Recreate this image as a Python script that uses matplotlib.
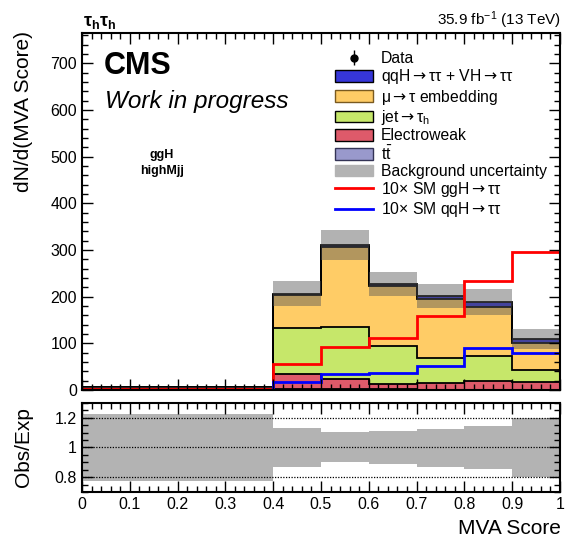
import numpy as np
import matplotlib
matplotlib.use("Agg")
import matplotlib.pyplot as plt
import matplotlib.patches as mpatches
from matplotlib.lines import Line2D
from matplotlib.ticker import MultipleLocator

plt.rcParams["font.family"] = ["Liberation Sans", "DejaVu Sans"]
plt.rcParams["mathtext.fontset"] = "custom"
plt.rcParams["mathtext.rm"] = "Liberation Sans"
plt.rcParams["mathtext.it"] = "Liberation Sans:italic"
plt.rcParams["mathtext.bf"] = "Liberation Sans:bold"
plt.rcParams["mathtext.sf"] = "DejaVu Sans"

# bin edges of the MVA score
edges = [0.0, 0.4, 0.5, 0.6, 0.7, 0.8, 0.9, 1.0]

# background stack, bottom to top (dN/d(MVA Score))
ttbar = [1.0, 3, 2, 3, 1, 1, 1]
ewk = [1.0, 31, 21.5, 9, 14, 19, 17]
jetfake = [1.5, 98, 112, 83, 53, 53, 25]
embed = [2.3, 72, 170, 128, 127.5, 104, 57]
qqh_vh = [0.2, 2, 4.5, 5, 6.5, 11, 9]

# relative background uncertainty (up / down)
unc_up = [1.224, 1.133, 1.107, 1.113, 1.124, 1.147, 1.200]
unc_down = [0.773, 0.871, 0.900, 0.887, 0.871, 0.858, 0.802]

# signals x10
ggh_sig = [1.5, 55, 93, 111, 158, 233, 295]
qqh_sig = [0.5, 18, 35, 36.5, 51, 89, 80]

stack = [
    (ttbar, "#9999cc"),
    (ewk, "#de5a6a"),
    (jetfake, "#c6e76a"),
    (embed, "#ffcc66"),
    (qqh_vh, "#3636d8"),
]

ARR = r"$\mathsf{\rightarrow}$"

fig = plt.figure(figsize=(5.65, 5.41), dpi=100)
ax = fig.add_axes([0.1451, 0.2791, 0.8460, 0.6599])
rax = fig.add_axes([0.1451, 0.0906, 0.8460, 0.1645])

bottom = np.zeros(len(edges) - 1)
for vals, col in stack:
    top = bottom + np.array(vals)
    ax.stairs(top, edges, baseline=bottom, fill=True, color=col, lw=0)
    bottom = top
bottom = np.zeros(len(edges) - 1)
for vals, col in stack:
    bottom = bottom + np.array(vals)
    ax.stairs(bottom, edges, baseline=0, color="black", lw=1.3)
total = bottom

ax.stairs(total * np.array(unc_up), edges, baseline=total * np.array(unc_down),
          fill=True, color="#555555", alpha=0.45, lw=0)

ax.stairs(ggh_sig, edges, baseline=None, color="#ff0000", lw=2)
ax.stairs(qqh_sig, edges, baseline=None, color="#0000ff", lw=2)

ax.set_xlim(0, 1)
ax.set_ylim(0, 765)
ax.xaxis.set_major_locator(MultipleLocator(0.1))
ax.xaxis.set_minor_locator(MultipleLocator(0.02))
ax.yaxis.set_major_locator(MultipleLocator(100))
ax.yaxis.set_minor_locator(MultipleLocator(20))
ax.tick_params(labelbottom=False)

# ratio panel
rax.stairs(unc_up, edges, baseline=unc_down, fill=True, color="#b3b3b3", lw=0)
for yv in [0.8, 1.0, 1.2]:
    rax.axhline(yv, color="black", ls=(0, (1, 1.2)), lw=0.9)
rax.set_xlim(0, 1)
rax.set_ylim(0.7, 1.3)
rax.xaxis.set_minor_locator(MultipleLocator(0.02))
rax.set_yticks([0.8, 1.0, 1.2])
rax.set_yticklabels(["0.8", "1", "1.2"])
rax.yaxis.set_minor_locator(MultipleLocator(0.05))
rax.set_xticks(np.arange(0, 1.01, 0.1))
rax.set_xticklabels(["0", "0.1", "0.2", "0.3", "0.4", "0.5", "0.6", "0.7", "0.8", "0.9", "1"])

for a in [ax, rax]:
    a.tick_params(which="both", direction="in", top=True, right=True, labelsize=11.5)
    a.tick_params(which="major", length=8, width=1)
    a.tick_params(which="minor", length=4, width=1)
    for sp in a.spines.values():
        sp.set_linewidth(1.5)

# texts
fig.text(0.042, 0.942, "dN/d(MVA Score)", rotation=90, ha="center", va="top", fontsize=15)
fig.text(0.042, 0.173, "Obs/Exp", rotation=90, ha="center", va="center", fontsize=15)
fig.text(0.993, 0.013, "MVA Score", ha="right", va="baseline", fontsize=15)
fig.text(0.147, 0.952, r"$\mathbf{\tau_{h}\tau_{h}}$", ha="left", va="baseline", fontsize=13)
fig.text(0.993, 0.953, r"35.9 fb$^{-1}$ (13 TeV)", ha="right", va="baseline", fontsize=11)
ax.text(0.045, 0.885, "CMS", transform=ax.transAxes, fontsize=22, fontweight="bold")
ax.text(0.048, 0.79, "Work in progress", transform=ax.transAxes, fontsize=17.5, style="italic")
ax.text(0.167, 0.675, "ggH\nhighMjj", transform=ax.transAxes, fontsize=9,
        fontweight="bold", ha="center", va="top", linespacing=1.4)

# legend
data_h = ax.errorbar([np.nan], [np.nan], yerr=[1], fmt="o", color="black", ms=5, lw=1)
handles = [
    data_h,
    mpatches.Patch(facecolor="#3636d8", edgecolor="black", lw=1),
    mpatches.Patch(facecolor="#ffcc66", edgecolor="#7a5a20", lw=1),
    mpatches.Patch(facecolor="#c6e76a", edgecolor="black", lw=1),
    mpatches.Patch(facecolor="#de5a6a", edgecolor="black", lw=1),
    mpatches.Patch(facecolor="#9999cc", edgecolor="#333355", lw=1),
    mpatches.Patch(facecolor="#b3b3b3", edgecolor="#b3b3b3", lw=1),
    Line2D([], [], color="#ff0000", lw=2),
    Line2D([], [], color="#0000ff", lw=2),
]
labels = [
    "Data",
    "qqH" + ARR + "ττ + VH" + ARR + "ττ",
    "μ" + ARR + "τ embedding",
    "jet" + ARR + r"$\mathregular{\tau_h}$",
    "Electroweak",
    r"$\mathregular{t\bar{t}}$",
    "Background uncertainty",
    "10× SM ggH" + ARR + "ττ",
    "10× SM qqH" + ARR + "ττ",
]
ax.legend(handles, labels, loc="upper left", bbox_to_anchor=(0.529, 0.949),
          frameon=False, fontsize=11.3, borderpad=0, handlelength=2.45,
          handleheight=0.75, handletextpad=0.5, labelspacing=0.08, borderaxespad=0)

fig.savefig("out.png", dpi=100)
